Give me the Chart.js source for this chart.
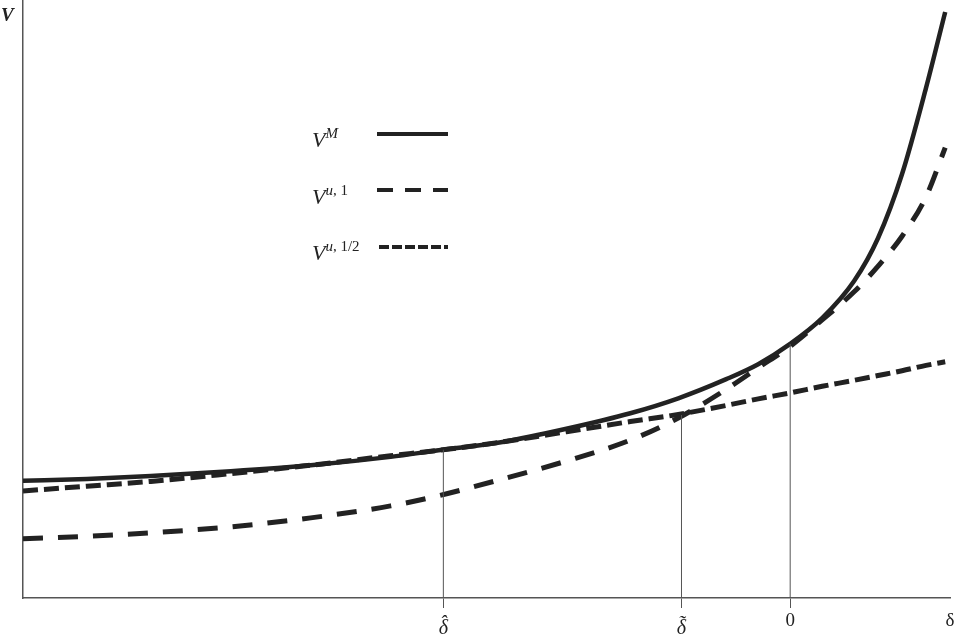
<!DOCTYPE html>
<html>
<head>
<meta charset="utf-8">
<script src="https://cdn.jsdelivr.net/npm/chart.js@4/dist/chart.umd.min.js"></script>
<style>
    body { margin: 0; background: #fff; }
    #wrap { position: relative; width: 961px; height: 636px; }
    .key { position: absolute; left: 312px; font-family: "Liberation Serif", serif; font-size: 22px; line-height: 22px; color: #222; white-space: nowrap; }
    .key i { font-style: italic; }
    .key sup { font-size: 15px; vertical-align: 9px; line-height: 0; }
    .sample { position: absolute; left: 377px; width: 71px; height: 4px; }
    #axisName { position: absolute; left: 1px; top: 5px; font: italic bold 19px/19px "Liberation Serif", serif; color: #222; }
</style>
</head>
<body>
<div id="wrap">
    <canvas id="valueChart"></canvas>
    <div id="axisName">V</div>
    <div class="key" style="top:129px"><i>V</i><sup><i>M</i></sup></div>
    <div class="sample" style="top:132px; background:#222"></div>
    <div class="key" style="top:186px"><i>V</i><sup><i>u</i>, 1</sup></div>
    <div class="sample" style="top:188px; background:repeating-linear-gradient(to right, #222 0 16px, transparent 16px 28px)"></div>
    <div class="key" style="top:242px"><i>V</i><sup><i>u</i>, 1/2</sup></div>
    <div class="sample" style="top:245px; left:379px; width:69px; background:repeating-linear-gradient(to right, #222 0 10px, transparent 10px 13px)"></div>
</div>
<script>
// values
const deltas = [-4.8, -4.4, -4.0, -3.5, -3.0, -2.5, -2.2, -1.8, -1.4, -1.0, -0.7, -0.4, -0.2, 0, 0.2, 0.4, 0.55, 0.7, 0.85, 0.97];
const vM =     [1.96, 1.99, 2.04, 2.12, 2.22, 2.36, 2.47, 2.61, 2.83, 3.09, 3.34, 3.66, 3.91, 4.25, 4.68, 5.30, 6.02, 7.09, 8.53, 9.80];
const vU1 =    [0.99, 1.03, 1.09, 1.19, 1.34, 1.54, 1.71, 1.99, 2.29, 2.64, 3.01, 3.49, 3.85, 4.21, 4.65, 5.12, 5.55, 6.05, 6.71, 7.53];
const vUHalf = [1.79, 1.87, 1.95, 2.08, 2.22, 2.38, 2.47, 2.61, 2.78, 2.95, 3.07, 3.22, 3.33, 3.43, 3.54, 3.64, 3.72, 3.80, 3.89, 3.95];

// vertical markers: delta-hat, delta-tilde, zero
const markerX = [-2.17, -0.68, 0];
const markerTop = [2.48, 3.06, 4.25];

// accented labels are stacked as lines: accent over delta
const tickValues = [-2.17, -0.68, 0, 1.0];
const tickLabels = [['', '', '', '\u02C6', 'δ'], ['', '', '', '\u02DC', 'δ'], '0', 'δ'];

const ink = '#222';
const axisGrey = '#555';

function series(ys) {
    return deltas.map((d, i) => ({ x: d, y: ys[i] }));
}

const curves = [
    { label: 'V^M', data: series(vM), borderDash: [], borderWidth: 4.5 },
    { label: 'V^u,1', data: series(vU1), borderDash: [20, 15], borderWidth: 5 },
    { label: 'V^u,1/2', data: series(vUHalf), borderDash: [15, 6], borderWidth: 5 }
].map(c => Object.assign(c, {
    borderColor: ink,
    pointRadius: 0,
    cubicInterpolationMode: 'monotone',
    fill: false
}));

const markers = markerX.map((x, i) => ({
    label: 'marker' + i,
    data: [{ x: x, y: 0 }, { x: x, y: markerTop[i] }],
    borderColor: axisGrey,
    borderWidth: 1,
    pointRadius: 0
}));

const ctx = document.getElementById('valueChart').getContext('2d');
new Chart(ctx, {
    type: 'line',
    data: { datasets: markers.concat(curves) },
    options: {
        responsive: true,
        maintainAspectRatio: false,
        animation: false,
        layout: { padding: { top: 0, right: 11, bottom: 0, left: 0 } },
        plugins: {
            legend: { display: false },
            tooltip: { enabled: false }
        },
        scales: {
            x: {
                type: 'linear',
                min: -4.8,
                max: 1.0,
                afterBuildTicks: scale => { scale.ticks = tickValues.map(v => ({ value: v })); },
                afterFit: scale => { scale.height = 38; },
                ticks: {
                    autoSkip: false,
                    maxRotation: 0,
                    padding: 2,
                    color: ink,
                    callback: (value, index) => tickLabels[index],
                    font: c => (c.index < 2
                        ? { family: '"Liberation Serif", serif', size: 20, style: 'italic', lineHeight: '4.2px' }
                        : { family: '"Liberation Serif", serif', size: 19 })
                },
                grid: {
                    drawOnChartArea: false,
                    drawTicks: true,
                    tickLength: 10,
                    lineWidth: 1,
                    color: c => (c.index === tickValues.length - 1 ? 'rgba(0,0,0,0)' : axisGrey)
                },
                border: { display: true, color: axisGrey, width: 1.5 }
            },
            y: {
                type: 'linear',
                min: 0,
                max: 10,
                afterFit: scale => { scale.width = 23; },
                ticks: { display: false },
                grid: { display: false },
                border: { display: true, color: axisGrey, width: 1.5 }
            }
        }
    }
});
</script>
</body>
</html>
